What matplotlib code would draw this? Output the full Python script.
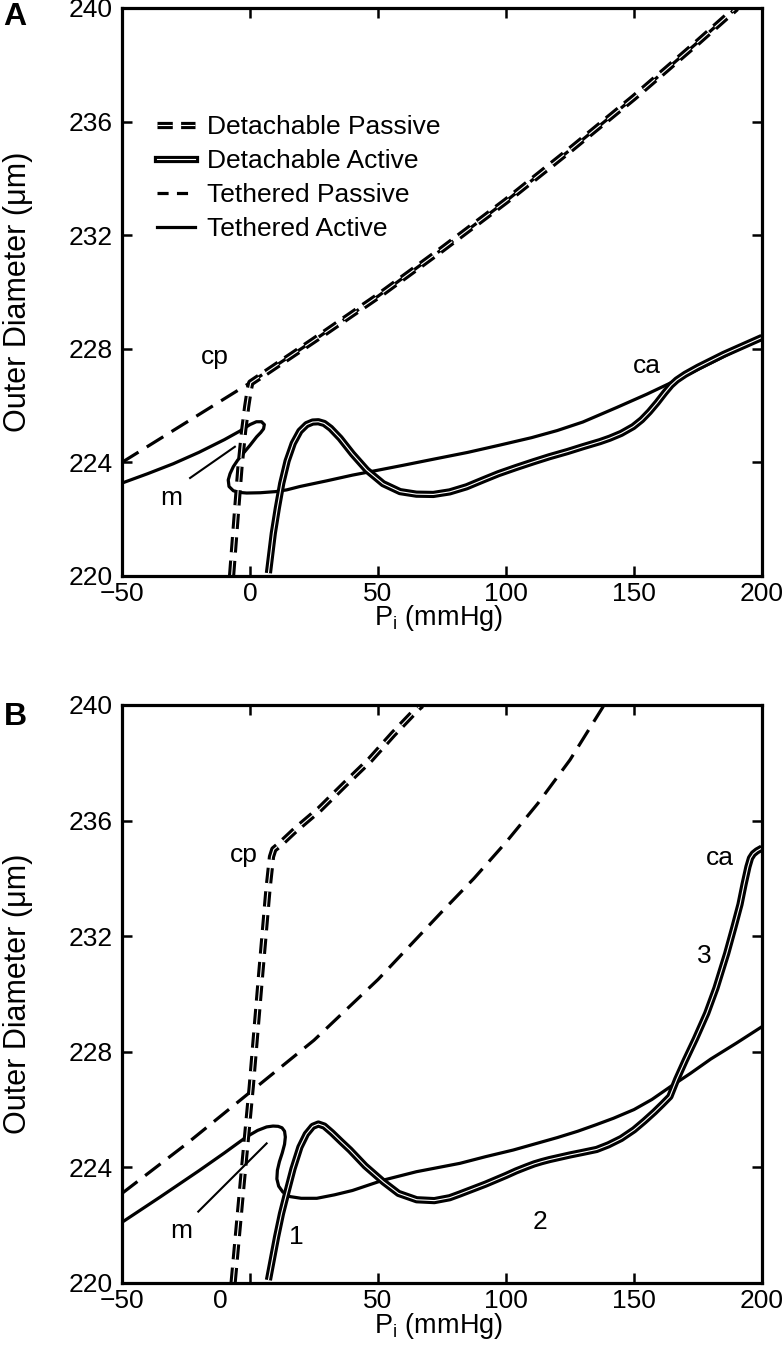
import matplotlib
matplotlib.use("Agg")
import matplotlib.pyplot as plt
from matplotlib.lines import Line2D
from matplotlib.legend_handler import HandlerTuple
from matplotlib.transforms import ScaledTranslation

plt.rcParams['font.family'] = ['Liberation Sans', 'DejaVu Sans']
plt.rcParams['mathtext.fontset'] = 'custom'
plt.rcParams['mathtext.rm'] = 'Liberation Sans'
plt.rcParams['lines.scale_dashes'] = False

FS = 19

# ---------------- panel A data ----------------
tp_a_x = [-50, -25, 0, 25, 50, 75, 100, 125, 150, 175, 190]
tp_a_y = [224.0, 225.4, 226.8, 228.3, 229.85, 231.5, 233.2, 235.0, 236.85, 238.8, 240.0]

# detachable passive: lower branch up to cp, then follows passive curve
dp_a_x = [-7.2, -5.5, -3.9, -2.5, -1.3, -0.3, 0.3]
dp_a_y = [220.0, 222.0, 223.85, 225.1, 225.96, 226.55, 226.8]

ta_a_x = [-50, -40, -30, -20, -10, -4, 0, 2.5, 4.5, 5.6, 5.3, 4.2, 2.6, 0, -2.6, -4.8,
          -6.5, -7.8, -8.5, -8.2, -6.5, -4, -1.3, 4, 10, 14.3, 19.5, 30, 40, 46.9, 60,
          71.6, 85, 97.7, 110, 120, 130, 143.2, 155, 166.7, 180, 190, 200]
ta_a_y = [223.27, 223.6, 223.95, 224.35, 224.8, 225.1, 225.33, 225.43, 225.43, 225.33,
          225.18, 225.05, 224.9, 224.6, 224.32, 224.08, 223.85, 223.6, 223.38, 223.15,
          223.0, 222.94, 222.92, 222.93, 222.97, 223.03, 223.15, 223.35, 223.55, 223.67,
          223.9, 224.11, 224.35, 224.61, 224.87, 225.12, 225.42, 225.93, 226.4, 226.9,
          227.5, 227.95, 228.4]

da_a_x = [7.2, 9.1, 10.7, 12.4, 14.5, 16.9, 19.5, 22.1, 24.5, 26.7, 29, 31.5, 35.2, 40,
          45.6, 52, 58.6, 65, 71.6, 78, 84.6, 91, 97, 104, 110.7, 117, 124, 130, 136.7,
          140.5, 145, 149.7, 153, 156, 159, 162, 164.5, 166.7, 170, 175, 185, 200]
da_a_y = [220.1, 221.5, 222.4, 223.26, 224.05, 224.67, 225.1, 225.33, 225.42, 225.43,
          225.37, 225.2, 224.85, 224.3, 223.73, 223.25, 222.97, 222.88, 222.87, 222.96,
          223.14, 223.38, 223.6, 223.82, 224.02, 224.2, 224.38, 224.55, 224.73, 224.85,
          225.02, 225.26, 225.5, 225.78, 226.1, 226.45, 226.72, 226.9, 227.1, 227.35,
          227.8, 228.4]

# ---------------- panel B data ----------------
tp_b_x = [-50, -25, 0, 25, 50, 75, 87.5, 100, 112.5, 125, 138]
tp_b_y = [223.1, 224.8, 226.6, 228.4, 230.5, 232.85, 234.0, 235.25, 236.6, 238.1, 239.95]

dp_b_x = [-6.6, -3, 0.5, 4, 7, 8.4, 9.3, 12, 18, 27.3, 37, 46.9, 56, 65.7, 67]
dp_b_y = [220.0, 223.5, 226.8, 230.5, 233.6, 234.75, 235.0, 235.2, 235.7, 236.4, 237.25,
          238.1, 239.0, 239.9, 240.0]

ta_b_x = [-50, -35, -20, -10, -1.3, 3, 6.5, 9, 11, 12.5, 13.5, 13.8, 13.5, 12.6, 11.5,
          10.7, 10.5, 11.2, 12.8, 15.6, 20, 26.1, 33, 40, 52.1, 65, 82, 92, 102.8, 112,
          120, 128, 135, 142, 150, 157, 164, 172, 180, 190, 200]
ta_b_y = [222.1, 222.98, 223.88, 224.5, 225.06, 225.28, 225.4, 225.43, 225.42, 225.37,
          225.25, 225.05, 224.8, 224.5, 224.2, 223.9, 223.6, 223.35, 223.15, 222.99,
          222.93, 222.93, 223.05, 223.2, 223.56, 223.85, 224.14, 224.37, 224.6, 224.83,
          225.03, 225.25, 225.47, 225.7, 226.0, 226.35, 226.78, 227.25, 227.75, 228.3,
          228.87]

da_b_x = [7.2, 8.8, 10.4, 12.3, 14.3, 16.8, 19.5, 22, 24.5, 26.7, 29, 32, 35.5, 39.1, 45,
          52.1, 58, 65.1, 72, 78, 82, 87, 92, 96, 100, 104, 108, 111, 114, 117, 120, 125,
          130, 135.4, 140, 145, 150, 154, 158, 161, 164, 166.7, 170, 174, 178.4, 182,
          186.2, 189, 191.4, 193, 194.5, 195.5, 196.6, 198, 200]
da_b_y = [220.1, 220.85, 221.6, 222.4, 223.1, 223.95, 224.7, 225.15, 225.42, 225.5,
          225.43, 225.2, 224.9, 224.6, 224.05, 223.5, 223.1, 222.88, 222.85, 222.95,
          223.08, 223.25, 223.42, 223.57, 223.72, 223.88, 224.02, 224.12, 224.2, 224.27,
          224.33, 224.43, 224.52, 224.62, 224.78, 225.0, 225.3, 225.6, 225.92, 226.18,
          226.45, 227.05, 227.7, 228.45, 229.33, 230.2, 231.4, 232.3, 233.1, 233.8,
          234.4, 234.7, 234.85, 234.95, 235.05]

xticks = [-50, 0, 50, 100, 150, 200]
xticklabels = ['\u221250', '0', '50', '100', '150', '200']
yticks = [220, 224, 228, 232, 236, 240]

THIN = 2.3
THICK = 5.2
CORE = 0.8
D_THIN = (0, (14, 7))
D_THICK = (0, (11, 6))


def double_line(ax, x, y, dashed=False):
    ls = D_THICK if dashed else '-'
    ax.plot(x, y, color='black', lw=THICK, ls=ls, dash_capstyle='butt',
            solid_capstyle='butt', solid_joinstyle='round')
    ax.plot(x, y, color='white', lw=CORE, ls=ls, dash_capstyle='butt',
            solid_capstyle='butt', solid_joinstyle='round')


def style(ax):
    ax.set_xlim(-50, 200)
    ax.set_ylim(220, 240)
    ax.set_xticks(xticks)
    ax.set_xticklabels(xticklabels)
    ax.set_yticks(yticks)
    ax.tick_params(direction='in', length=7, width=1.8, top=True, right=True,
                   labelsize=FS)
    ax.tick_params(axis='x', pad=4)
    ax.tick_params(axis='y', pad=7)
    for s in ax.spines.values():
        s.set_linewidth(2.3)
    ax.set_ylabel('Outer Diameter (\u03bcm)', fontsize=22)
    ax.set_xlabel('P$_\\mathregular{i}$ (mmHg)', fontsize=FS + 0.5)
    ax.yaxis.set_label_coords(-0.139, 0.5)
    ax.xaxis.set_label_coords(0.494, -0.048)


fig = plt.figure(figsize=(7.83, 13.71), dpi=100)
axA = fig.add_axes([0.1558, 0.5799, 0.8174, 0.4143])
axB = fig.add_axes([0.1558, 0.0642, 0.8174, 0.4216])

# ---- A ----
ax = axA
ax.plot(tp_a_x, tp_a_y, color='black', lw=THIN, ls=D_THIN, dash_capstyle='butt')
ax.plot(ta_a_x, ta_a_y, color='black', lw=THIN)
double_line(ax, dp_a_x + tp_a_x[3:], dp_a_y + tp_a_y[3:], dashed=True)
double_line(ax, da_a_x, da_a_y)
ax.plot([-23.4, -5.9], [223.45, 224.55], color='black', lw=1.5)
ax.text(-13.7, 227.7, 'cp', fontsize=FS, ha='center', va='center')
ax.text(155, 227.4, 'ca', fontsize=FS, ha='center', va='center')
ax.text(-30.6, 222.75, 'm', fontsize=FS, ha='center', va='center')
style(ax)

h_dp = (Line2D([], [], color='black', lw=THICK, ls=D_THICK, dash_capstyle='butt'),
        Line2D([], [], color='white', lw=CORE, ls=D_THICK, dash_capstyle='butt'))
h_da = (Line2D([], [], color='black', lw=THICK),
        Line2D([], [], color='white', lw=CORE))
h_tp = Line2D([], [], color='black', lw=THIN, ls=(0, (8, 6)))
h_ta = Line2D([], [], color='black', lw=THIN)
ax.legend([h_dp, h_da, h_tp, h_ta],
          ['Detachable Passive', 'Detachable Active', 'Tethered Passive', 'Tethered Active'],
          handler_map={tuple: HandlerTuple(ndivide=1)},
          loc='upper left', bbox_to_anchor=(0.055, 0.812), frameon=False, fontsize=FS,
          handlelength=1.45, handletextpad=0.45, labelspacing=0.38,
          borderpad=0, borderaxespad=0)

# ---- B ----
ax = axB
ax.plot(tp_b_x, tp_b_y, color='black', lw=THIN, ls=D_THIN, dash_capstyle='butt')
ax.plot(ta_b_x, ta_b_y, color='black', lw=THIN)
double_line(ax, dp_b_x, dp_b_y, dashed=True)
double_line(ax, da_b_x, da_b_y)
ax.plot([-20.2, 6.5], [222.47, 224.83], color='black', lw=1.5)
ax.text(-2.6, 234.8, 'cp', fontsize=FS, ha='center', va='center')
ax.text(183.6, 234.7, 'ca', fontsize=FS, ha='center', va='center')
ax.text(177.3, 231.3, '3', fontsize=FS, ha='center', va='center')
ax.text(113.3, 222.1, '2', fontsize=FS, ha='center', va='center')
ax.text(18.2, 221.6, '1', fontsize=FS, ha='center', va='center')
ax.text(-26.7, 221.8, 'm', fontsize=FS, ha='center', va='center')
style(ax)
# the "0" label sits left of its tick in the original
lab0 = ax.get_xticklabels()[1]
lab0.set_transform(lab0.get_transform() + ScaledTranslation(-0.30, 0, fig.dpi_scale_trans))

fig.text(15 / 783, 1 - 17 / 1371, 'A', fontsize=23, fontweight='bold', ha='center', va='center')
fig.text(15 / 783, 1 - 717 / 1371, 'B', fontsize=23, fontweight='bold', ha='center', va='center')

plt.savefig('out.png', dpi=100)
